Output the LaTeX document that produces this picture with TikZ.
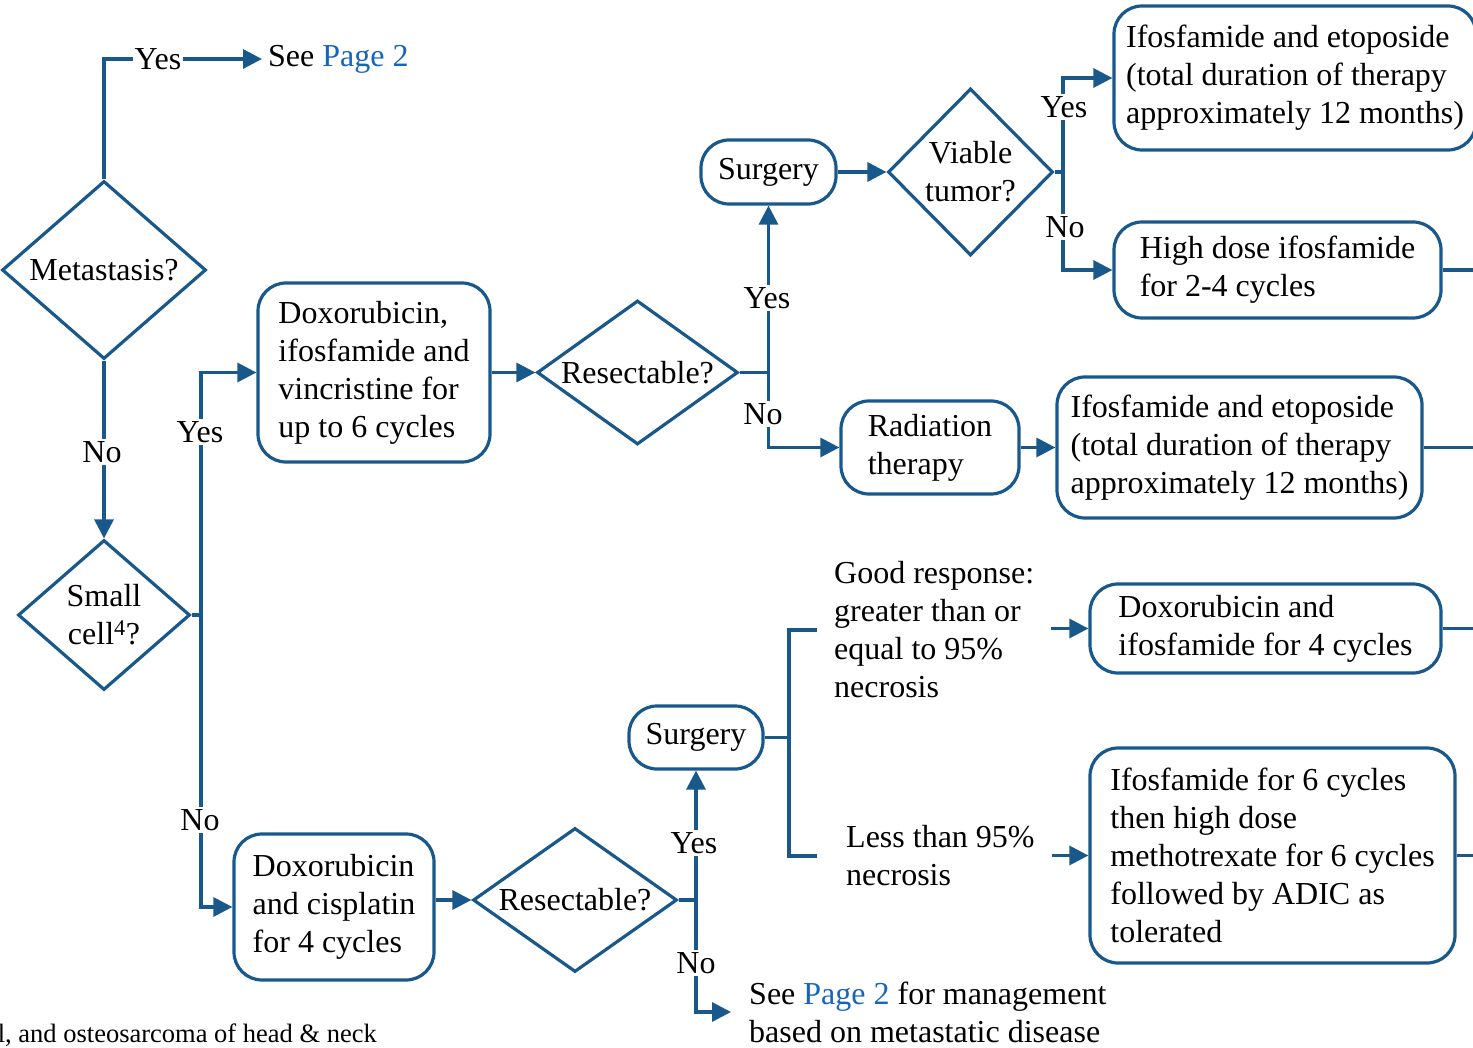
\documentclass[tikz,border=0pt]{standalone}
\usepackage{fontspec}
\setmainfont{Liberation Serif}
\usetikzlibrary{shapes.geometric,arrows.meta}
\definecolor{lc}{RGB}{25,88,138}
\definecolor{pg}{RGB}{21,101,192}
\begin{document}
\begin{tikzpicture}[x=1pt,y=-1pt,
  font=\fontsize{32}{38}\selectfont,
  box/.style={draw=lc, line width=3.2pt, rounded corners=28pt, align=left, inner sep=0pt},
  dia/.style={diamond, draw=lc, line width=3.2pt, align=center, inner sep=0pt},
  conn/.style={draw=lc, line width=3.2pt},
  arr/.style={conn, -{Triangle[length=19pt,width=19pt]}},
  lbl/.style={fill=white, inner sep=2pt},
  txt/.style={align=left, inner sep=0pt}]
\useasboundingbox (0,0) rectangle (1473,1048);
\clip (0,0) rectangle (1473,1048);

% nodes
\node[dia, aspect=1.146, minimum width=204pt, minimum height=178pt] (meta) at (104,270) {Metastasis?};
\node[dia, aspect=1.147, minimum width=172pt, minimum height=150pt] (sc) at (104,615) {Small\\cell\textsuperscript{4}?};
\node[box, minimum width=232pt, minimum height=179pt] (b1) at (374,372.5) {Doxorubicin,\\ifosfamide and\\vincristine for\\up to 6 cycles};
\node[dia, aspect=1.396, minimum width=201pt, minimum height=144pt] (r1) at (637.5,372.5) {Resectable?};
\node[box, minimum width=135pt, minimum height=64pt] (s1) at (768.5,172) {Surgery};
\node[dia, aspect=0.99, minimum width=165pt, minimum height=167pt] (vt) at (970.5,172) {Viable\\tumor?};
\node[box, minimum width=362pt, minimum height=144pt] (if1) at (1295,78) {Ifosfamide and etoposide\\(total duration of therapy\\approximately 12 months)};
\node[box, minimum width=327pt, minimum height=96pt] (hd) at (1277.5,270) {High dose ifosfamide\\for 2-4 cycles};
\node[box, minimum width=178pt, minimum height=93pt] (rad) at (930,447.5) {Radiation\\therapy};
\node[box, minimum width=365pt, minimum height=141pt] (if2) at (1239.5,447.5) {Ifosfamide and etoposide\\(total duration of therapy\\approximately 12 months)};
\node[box, minimum width=200pt, minimum height=146pt] (b2) at (334,907) {Doxorubicin\\and cisplatin\\for 4 cycles};
\node[dia, aspect=1.417, minimum width=204pt, minimum height=144pt] (r2) at (575,900) {Resectable?};
\node[box, minimum width=134pt, minimum height=63pt] (s2) at (696,737.5) {Surgery};
\node[txt, anchor=west, inner xsep=17pt] (good) at (817,630) {Good response:\\greater than or\\equal to 95\%\\necrosis};
\node[txt, anchor=west, inner xsep=17pt] (less) at (829,856) {Less than 95\%\\necrosis};
\node[box, minimum width=351pt, minimum height=89pt] (di) at (1265.5,628.5) {Doxorubicin and\\ifosfamide for 4 cycles};
\node[box, minimum width=365pt, minimum height=215pt] (i6) at (1272.5,855.5) {Ifosfamide for 6 cycles\\then high dose\\methotrexate for 6 cycles\\followed by ADIC as\\tolerated};
\node[txt, anchor=west, inner xsep=6pt] (see1) at (262,59) {See \textcolor{pg}{Page 2}};
\node[txt, anchor=west, inner xsep=18pt] (see2) at (731,1012) {See \textcolor{pg}{Page 2} for management\\based on metastatic disease};
\node[anchor=base east, inner sep=0pt, font=\fontsize{26.5}{30}\selectfont] (foot) at (377,1042) {l, and osteosarcoma of head \& neck};

% junctions and free ends
\coordinate (j1) at (201,615);
\coordinate (j2) at (768.5,372.5);
\coordinate (j3) at (1063,172);
\coordinate (j4) at (696,900);
\coordinate (j5) at (789,737.5);
\coordinate (e1) at (1480,270);
\coordinate (e2) at (1480,447.5);
\coordinate (e3) at (1480,628.5);
\coordinate (e4) at (1480,855.5);

% connectors
\draw[arr] (meta.north) |- (see1.west);
\draw[arr] (meta.south) -- (sc.north);
\draw[conn] (sc.east) -- (j1);
\draw[arr] (j1) |- (b1.west);
\draw[arr] (j1) |- (b2.west);
\draw[arr] (b1.east) -- (r1.west);
\draw[conn] (r1.east) -- (j2);
\draw[arr] (j2) -- (s1.south);
\draw[arr] (j2) |- (rad.west);
\draw[arr] (s1.east) -- (vt.west);
\draw[conn] (vt.east) -- (j3);
\draw[arr] (j3) |- (if1.west);
\draw[arr] (j3) |- (hd.west);
\draw[conn] (hd.east) -- (e1);
\draw[arr] (rad.east) -- (if2.west);
\draw[conn] (if2.east) -- (e2);
\draw[arr] (b2.east |- r2.west) -- (r2.west);
\draw[conn] (r2.east) -- (j4);
\draw[arr] (j4) -- (s2.south);
\draw[arr] (j4) |- (see2.west);
\draw[conn] (s2.east) -- (j5);
\draw[conn] (j5) |- (good.west);
\draw[conn, shorten >=12pt] (j5) |- (less.west);
\draw[arr] (good.east |- di.west) -- (di.west);
\draw[arr] (less.east |- i6.west) -- (i6.west);
\draw[conn] (di.east) -- (e3);
\draw[conn] (i6.east) -- (e4);

% labels
\node[lbl] (l1) at (158,59) {Yes};
\node[lbl] (l2) at (102,452) {No};
\node[lbl] (l3) at (200,432) {Yes};
\node[lbl] (l4) at (200,820) {No};
\node[lbl] (l5) at (767,298) {Yes};
\node[lbl] (l6) at (763,414) {No};
\node[lbl] (l7) at (1064,107) {Yes};
\node[lbl] (l8) at (1065,227) {No};
\node[lbl] (l9) at (694,843) {Yes};
\node[lbl] (l10) at (696,963) {No};
\end{tikzpicture}
\end{document}
